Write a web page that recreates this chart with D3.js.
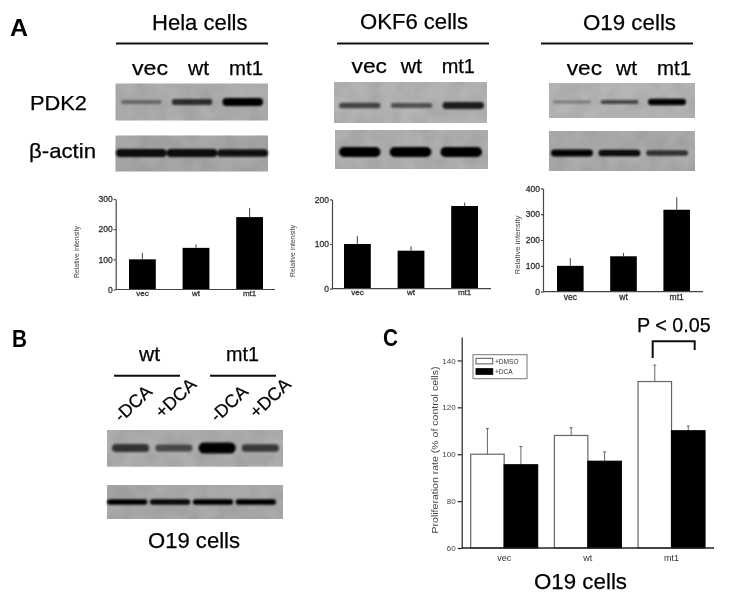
<!DOCTYPE html>
<html><head><meta charset="utf-8">
<script src="https://cdn.jsdelivr.net/npm/d3@7"></script>
<style>html,body{margin:0;padding:0;background:#fff}svg{display:block}text{font-family:"Liberation Sans",Arial,sans-serif}</style>
</head><body><svg id="c" width="731" height="601"></svg>
<script>
// ---- data ----
const lanes = ["vec", "wt", "mt1"];
const helaValues = [100, 138, 240];
const helaErrTops = [122, 150, 270];
const okf6Values = [100, 85, 185];
const okf6ErrTops = [118, 95, 193];
const o19Values = [100, 137, 317];
const o19ErrTops = [130, 150, 365];
const smallTicksHela = [0, 100, 200, 300];
const smallTicksOkf6 = [0, 100, 200];
const smallTicksO19 = [0, 100, 200, 300, 400];
const helaPdk2Bands = [0.25, 0.62, 1.0];
const helaActinBands = [0.85, 0.85, 0.8];
const okf6Pdk2Bands = [0.5, 0.42, 0.72];
const okf6ActinBands = [1.0, 1.0, 1.0];
const o19Pdk2Bands = [0.18, 0.5, 0.95];
const o19ActinBands = [0.9, 0.85, 0.6];
const dcaLanes = ["-DCA", "+DCA", "-DCA ", "+DCA "];
const dcaPdk2Bands = [0.58, 0.45, 1.0, 0.55];
const dcaActinBands = [0.9, 0.85, 0.9, 0.9];
const groups = ["vec", "wt", "mt1"];
const seriesNames = ["+DMSO", "+DCA"];
const dmsoValues = [100, 108, 131];
const dmsoErrTops = [111, 111.3, 138];
const dcaValues = [95.5, 97, 110];
const dcaErrTops = [103.3, 101, 112];
const cTicks = [60, 80, 100, 120, 140];

const svg = d3.select("#c");
const defs = svg.append("defs");
function blurF(id, s){
  defs.append("filter").attr("id", id).attr("x", "-20%").attr("y", "-60%").attr("width", "140%").attr("height", "220%")
    .append("feGaussianBlur").attr("stdDeviation", s);
}
blurF("soft", 0.45);
blurF("small", 0.6);
blurF("band", 1.0);
const ft = defs.append("filter").attr("id", "mottle").attr("x", 0).attr("y", 0).attr("width", "100%").attr("height", "100%");
ft.append("feTurbulence").attr("type", "fractalNoise").attr("baseFrequency", 0.06).attr("numOctaves", 2).attr("seed", 4).attr("result", "n");
ft.append("feColorMatrix").attr("in", "n").attr("type", "matrix").attr("values", "0 0 0 0 0  0 0 0 0 0  0 0 0 0 0  0.3 0 0 0 -0.09");
ft.append("feComposite").attr("in2", "SourceGraphic").attr("operator", "in").attr("result", "m");
ft.append("feMerge").selectAll("feMergeNode").data(["SourceGraphic", "m"]).join("feMergeNode").attr("in", d => d);

const root = svg.append("g").attr("filter", "url(#soft)");

function label(g, txt, x0, x1, y, size, weight){
  return g.append("text").attr("x", x0).attr("y", y).attr("font-size", size)
    .attr("font-weight", weight || "normal").attr("fill", "#000").attr("stroke", "#000").attr("stroke-width", weight ? 0 : 0.25)
    .attr("textLength", x1 - x0).attr("lengthAdjust", "spacingAndGlyphs").text(txt);
}
function rule(g, x0, x1, y, w){
  g.append("line").attr("x1", x0).attr("x2", x1).attr("y1", y).attr("y2", y).attr("stroke", "#111").attr("stroke-width", w || 2);
}
function blot(g, x0, x1, y0, y1, bg, names, vals, bx0, bx1, pad, thick, cy){
  g.append("rect").attr("x", x0).attr("y", y0).attr("width", x1 - x0).attr("height", y1 - y0).attr("fill", bg).attr("filter", "url(#mottle)");
  const x = d3.scaleBand().domain(names).range([bx0, bx1]).paddingInner(pad);
  const h = v => thick * (0.3 + 0.7 * v);
  g.append("g").attr("filter", "url(#band)").selectAll("rect").data(names).join("rect")
    .attr("x", d => x(d)).attr("width", x.bandwidth())
    .attr("y", (d, i) => cy - h(vals[i]) / 2).attr("height", (d, i) => h(vals[i]))
    .attr("rx", (d, i) => h(vals[i]) / 2)
    .attr("fill", "#050505")
    .attr("opacity", (d, i) => Math.min(1, 0.15 + 0.95 * vals[i]));
}
function smallChart(cfg){
  const g = svg.append("g").attr("filter", "url(#small)");
  const y = d3.scaleLinear().domain(cfg.domain).range([cfg.y0, cfg.y1]);
  const x = d3.scaleBand().domain(lanes).range(cfg.bars).paddingInner(0.5);
  g.selectAll(".err").data(lanes).join("line")
    .attr("x1", d => x(d) + x.bandwidth() / 2).attr("x2", d => x(d) + x.bandwidth() / 2)
    .attr("y1", (d, i) => y(cfg.vals[i])).attr("y2", (d, i) => y(cfg.errs[i]))
    .attr("stroke", "#555").attr("stroke-width", 1.1);
  g.selectAll(".bar").data(lanes).join("rect")
    .attr("x", d => x(d)).attr("width", x.bandwidth())
    .attr("y", (d, i) => y(cfg.vals[i])).attr("height", (d, i) => y(0) - y(cfg.vals[i]))
    .attr("fill", "#000");
  const ay = g.append("g").attr("transform", `translate(${cfg.ax},0)`)
    .call(d3.axisLeft(y).tickValues(cfg.ticks).tickSize(2).tickSizeOuter(0).tickPadding(1));
  ay.selectAll("path,line").attr("stroke", "#444").attr("stroke-width", 1.2);
  ay.selectAll("text").attr("font-size", cfg.tickSize).attr("fill", "#333").attr("stroke", "#333").attr("stroke-width", 0.3);
  const ax = g.append("g").attr("transform", `translate(0,${cfg.y0})`)
    .call(d3.axisBottom(x).tickSize(0).tickPadding(cfg.pad));
  ax.select("path").remove();
  ax.selectAll("text").attr("font-size", cfg.catSize).attr("fill", "#333").attr("stroke", "#333").attr("stroke-width", 0.3);
  g.append("line").attr("x1", cfg.ax).attr("x2", cfg.axEnd).attr("y1", cfg.y0).attr("y2", cfg.y0).attr("stroke", "#444").attr("stroke-width", 1.2);
  g.append("text").attr("transform", `translate(${cfg.tx},${cfg.ty}) rotate(-90)`)
    .attr("text-anchor", "middle").attr("font-size", cfg.titleSize).attr("fill", "#444").attr("textLength", cfg.titleLen).attr("lengthAdjust", "spacingAndGlyphs").text("Relative intensity");
}

// Panel letters
label(root, "A", 10, 28, 36, 23, "bold");
label(root, "B", 12, 27, 347, 23, "bold");
label(root, "C", 383, 398, 346, 23, "bold");

// Panel A headers
label(root, "Hela cells", 152, 247.5, 30, 22);
rule(root, 116, 268, 43.5);
label(root, "OKF6 cells", 360, 468, 29, 22);
rule(root, 337, 489, 43.5);
label(root, "O19 cells", 583, 676, 30, 22);
rule(root, 541, 693, 43.5);
[[132, 168, 188, 209, 229, 263, 75], [351.5, 387, 400.7, 422, 441.7, 475, 73], [566.7, 602, 616, 637, 657, 691, 75]].forEach(p => {
  lanes.forEach((d, i) => label(root, d, p[i * 2], p[i * 2 + 1], p[6], 21));
});
label(root, "PDK2", 30, 87, 110, 21);
label(root, "β-actin", 29, 96, 158, 21);

// Panel A blots
blot(root, 115.5, 268, 83.5, 120.5, "#aeaeae", lanes, helaPdk2Bands, 121, 263, 0.2, 8, 102);
blot(root, 115.5, 268, 135.5, 171.5, "#a8a8a8", lanes, helaActinBands, 116, 268, 0, 9, 153);
blot(root, 334, 487, 82, 123, "#b4b4b4", lanes, okf6Pdk2Bands, 339, 484, 0.2, 8.5, 105.5);
blot(root, 335, 488, 130, 169, "#b0b0b0", lanes, okf6ActinBands, 339, 482, 0.18, 10, 152);
blot(root, 549, 695, 83, 118, "#b6b6b6", lanes, o19Pdk2Bands, 553, 686, 0.2, 6.5, 102);
blot(root, 549, 695, 131, 171, "#acacac", lanes, o19ActinBands, 551, 688, 0.12, 7.5, 153);

// Panel A charts
smallChart({vals: helaValues, errs: helaErrTops, ticks: smallTicksHela, domain: [0, 300], y0: 289.5, y1: 199, ax: 115.7, axEnd: 275, bars: [129, 263], tx: 79, ty: 252, tickSize: 8.5, catSize: 8, titleSize: 7, titleLen: 52, pad: 1});
smallChart({vals: okf6Values, errs: okf6ErrTops, ticks: smallTicksOkf6, domain: [0, 200], y0: 288.7, y1: 199.3, ax: 332, axEnd: 491, bars: [344, 478], tx: 294.5, ty: 251, tickSize: 8.5, catSize: 8, titleSize: 7, titleLen: 52, pad: 1});
smallChart({vals: o19Values, errs: o19ErrTops, ticks: smallTicksO19, domain: [0, 400], y0: 291.7, y1: 188.3, ax: 543, axEnd: 703, bars: [557, 690], tx: 519.5, ty: 245, tickSize: 8.5, catSize: 8.5, titleSize: 8, titleLen: 59, pad: 2});

// Panel B
label(root, "wt", 139, 160, 361, 21);
label(root, "mt1", 226, 259, 361, 21);
rule(root, 114, 180, 375.7);
rule(root, 210, 276, 375.7);
[[121, 423], [162, 419], [217, 423], [256.5, 419]].forEach((p, i) => {
  root.append("text").attr("transform", `translate(${p[0]},${p[1]}) rotate(-43)`)
    .attr("font-size", 18).attr("fill", "#000").attr("stroke", "#000").attr("stroke-width", 0.2).text(dcaLanes[i].trim());
});
blot(root, 107, 283, 430, 466.7, "#aeaeae", dcaLanes, dcaPdk2Bands, 112, 279, 0.14, 11, 448);
blot(root, 107, 283, 485, 519, "#aaaaaa", dcaLanes, dcaActinBands, 107, 276, 0.06, 6, 502);
label(root, "O19 cells", 148, 240, 547.7, 22);

// Panel C
const cg = svg.append("g").attr("filter", "url(#soft)");
const yC = d3.scaleLinear().domain([60, 150]).range([548, 337]);
const xC = d3.scaleBand().domain(groups).range([470.7, 705]).paddingInner(0.2);
const xS = d3.scaleBand().domain(seriesNames).range([0, xC.bandwidth()]);
const cSeries = [
  {name: "+DMSO", vals: dmsoValues, errs: dmsoErrTops, fill: "#fff"},
  {name: "+DCA", vals: dcaValues, errs: dcaErrTops, fill: "#000"}
];
cSeries.forEach(s => {
  const cx = d => xC(d) + xS(s.name) + xS.bandwidth() / 2;
  cg.selectAll(null).data(groups).join("line")
    .attr("x1", cx).attr("x2", cx)
    .attr("y1", (d, i) => yC(s.vals[i])).attr("y2", (d, i) => yC(s.errs[i]))
    .attr("stroke", "#666").attr("stroke-width", 1);
  cg.selectAll(null).data(groups).join("line")
    .attr("x1", d => cx(d) - 1.5).attr("x2", d => cx(d) + 1.5)
    .attr("y1", (d, i) => yC(s.errs[i])).attr("y2", (d, i) => yC(s.errs[i]))
    .attr("stroke", "#666").attr("stroke-width", 1);
  cg.selectAll(null).data(groups).join("rect")
    .attr("x", d => xC(d) + xS(s.name)).attr("width", xS.bandwidth())
    .attr("y", (d, i) => yC(s.vals[i])).attr("height", (d, i) => yC(60) - yC(s.vals[i]))
    .attr("fill", s.fill).attr("stroke", s.fill === "#fff" ? "#666" : "#000").attr("stroke-width", 1.2);
});
const ayC = cg.append("g").attr("transform", "translate(461.7,0)")
  .call(d3.axisLeft(yC).tickValues(cTicks).tickSize(4).tickSizeOuter(0).tickPadding(2));
ayC.selectAll("path,line").attr("stroke", "#222").attr("stroke-width", 1.2);
ayC.selectAll("text").attr("font-size", 8).attr("fill", "#444");
const axC = cg.append("g").attr("transform", "translate(0,548)").call(d3.axisBottom(xC).tickSize(0).tickPadding(7));
axC.select("path").remove();
axC.selectAll("text").attr("font-size", 9).attr("fill", "#333");
cg.append("line").attr("x1", 461.7).attr("x2", 714).attr("y1", 548).attr("y2", 548).attr("stroke", "#222").attr("stroke-width", 1.3);
cg.append("text").attr("transform", "translate(438,450) rotate(-90)").attr("text-anchor", "middle")
  .attr("font-size", 9.6).attr("fill", "#444").attr("textLength", 167).attr("lengthAdjust", "spacingAndGlyphs")
  .text("Proliferation rate (% of control cells)");
// legend
cg.append("rect").attr("x", 473).attr("y", 354.7).attr("width", 54).attr("height", 24).attr("fill", "#fff").attr("stroke", "#777");
cSeries.forEach((s, i) => {
  const sy = 358.3 + i * 10.4;
  cg.append("rect").attr("x", 476).attr("y", sy).attr("width", 16.7).attr("height", 5.6).attr("fill", s.fill).attr("stroke", s.fill === "#fff" ? "#555" : "#000");
  cg.append("text").attr("x", 495).attr("y", sy + 5.6).attr("font-size", 6.6).attr("fill", "#333").text(s.name);
});
// significance bracket
label(root, "P < 0.05", 637, 710.7, 332, 21);
root.append("path").attr("d", d3.line()([[652.7, 358], [652.7, 341.3], [694.7, 341.3], [694.7, 350]]))
  .attr("fill", "none").attr("stroke", "#111").attr("stroke-width", 2);
label(root, "O19 cells", 534, 627, 589, 22);
</script></body></html>
